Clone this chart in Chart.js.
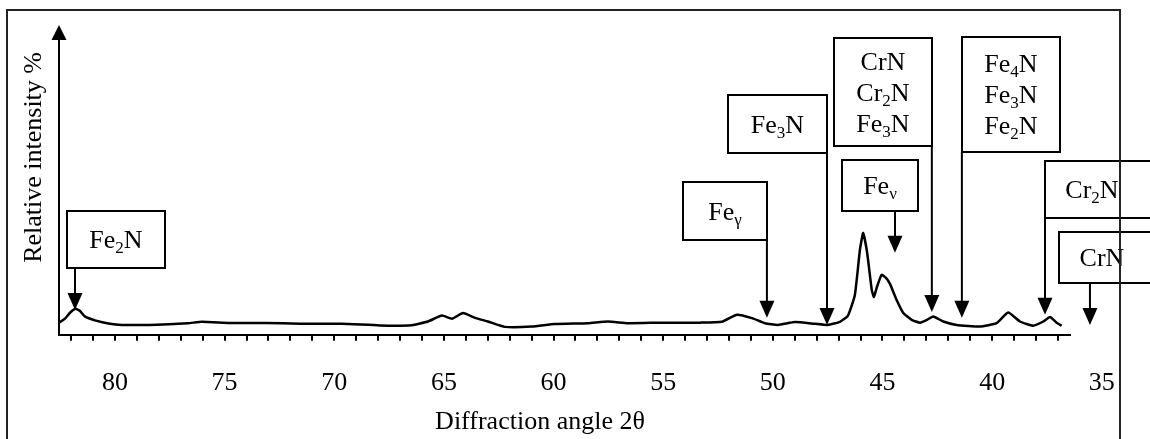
<!DOCTYPE html>
<html>
<head>
<meta charset="utf-8">
<script src="https://cdn.jsdelivr.net/npm/chart.js@4.4.1/dist/chart.umd.min.js"></script>
<style>
  html, body { margin: 0; padding: 0; background: #fff; }
</style>
</head>
<body>
<canvas id="xrd" width="1150" height="439"></canvas>
<script>
// XRD scan, diffraction angle 2θ (deg) vs relative intensity (%)
const angles = [82.55, 82.28, 82.05, 81.79, 81.60, 81.37, 80.91, 80.23, 79.68, 78.40,
  76.67, 76.03, 74.76, 73.16, 71.56, 69.65, 67.92, 66.46, 65.73, 65.09,
  64.63, 64.13, 63.58, 62.99, 62.22, 60.98, 59.94, 58.43, 57.52, 56.61,
  55.06, 53.32, 52.32, 51.64, 50.95, 50.36, 49.77, 48.99, 48.08, 47.49,
  46.94, 46.58, 46.26, 46.03, 45.88, 45.70, 45.49, 45.39, 45.25, 45.04,
  44.84, 44.66, 44.36, 44.05, 43.67, 43.29, 42.97, 42.69, 42.23, 41.62,
  40.56, 39.80, 39.27, 38.73, 38.13, 37.67, 37.36, 37.06, 36.83];
const intensity = [4.2, 5.7, 7.8, 9.2, 8.5, 6.5, 5.1, 3.9, 3.5, 3.5,
  4.1, 4.6, 4.2, 4.2, 3.9, 3.9, 3.3, 3.4, 4.7, 6.8,
  5.7, 7.7, 6.0, 4.7, 2.8, 2.9, 3.8, 4.1, 4.7, 4.1,
  4.3, 4.3, 4.6, 7.1, 5.9, 4.1, 3.5, 4.5, 3.9, 3.5,
  4.6, 6.7, 14.1, 30.0, 36.0, 29.0, 15.9, 13.4, 17.0, 21.2,
  20.1, 18.0, 12.4, 7.7, 5.3, 4.3, 5.3, 6.5, 4.7, 3.5,
  2.9, 4.1, 7.9, 4.7, 3.2, 4.7, 6.3, 4.3, 3.2];

const tickLabels = [80, 75, 70, 65, 60, 55, 50, 45, 40, 35];
const axisEnd = 37; // last minor tick under the trace

// phase labels, the angle each arrow points at and the intensity at its tip
const phaseLabels = [['Fe_2N'], ['Fe_γ'], ['Fe_3N'], ['CrN', 'Cr_2N', 'Fe_3N'],
  ['Fe_ν'], ['Fe_4N', 'Fe_3N', 'Fe_2N'], ['Cr_2N'], ['CrN']];
const phaseAngles = [81.82, 50.27, 47.53, 42.75, 44.43, 41.38, 37.59, 35.54];
const phaseTips = [8.8, 6.0, 3.5, 8.1, 29.0, 6.0, 7.1, 3.5];

// label boxes (pixels), tx = text centre when it is not the box centre
const boxes = [
  {x: 67, y: 211, w: 98, h: 57},
  {x: 683, y: 182, w: 84, h: 58},
  {x: 728, y: 95, w: 99, h: 58},
  {x: 834, y: 38, w: 98, h: 108},
  {x: 842, y: 160, w: 76, h: 51},
  {x: 962, y: 37, w: 98, h: 115},
  {x: 1045, y: 161, w: 115, h: 57, tx: 1092},
  {x: 1059, y: 232, w: 100, h: 51, tx: 1102}
];

const minorTicks = [];
for (let v = 82; v >= 35; v--) minorTicks.push(v);

const serif = '"Liberation Serif", "Times New Roman", serif';

function drawRich(ctx, str, cx, cy) {
  const parts = [];
  for (let i = 0; i < str.length; i++) {
    if (str[i] === '_') { parts.push({t: str[i + 1], sub: true}); i++; }
    else parts.push({t: str[i], sub: false});
  }
  let w = 0;
  parts.forEach(p => {
    ctx.font = (p.sub ? '17px ' : '26px ') + serif;
    p.w = ctx.measureText(p.t).width;
    w += p.w;
  });
  let x = cx - w / 2;
  const base = cy + 8.8;
  ctx.textAlign = 'left';
  ctx.textBaseline = 'alphabetic';
  parts.forEach(p => {
    ctx.font = (p.sub ? '17px ' : '26px ') + serif;
    ctx.fillText(p.t, x, p.sub ? base + 5 : base);
    x += p.w;
  });
}

const decor = {
  id: 'decor',
  afterDraw(chart) {
    const {ctx, chartArea} = chart;
    const xs = chart.scales.x, ys = chart.scales.y;
    ctx.save();
    ctx.strokeStyle = '#000';
    ctx.fillStyle = '#000';
    ctx.lineWidth = 2;

    // y axis arrow
    const ax = chartArea.left;
    ctx.beginPath();
    ctx.moveTo(ax, chartArea.top);
    ctx.lineTo(ax, 40);
    ctx.stroke();
    ctx.beginPath();
    ctx.moveTo(ax - 7.5, 40);
    ctx.lineTo(ax + 7.5, 40);
    ctx.lineTo(ax, 25);
    ctx.closePath();
    ctx.fill();

    // phase boxes and arrows
    phaseLabels.forEach((lines, i) => {
      const b = boxes[i];
      const px = xs.getPixelForValue(phaseAngles[i]);
      const tip = ys.getPixelForValue(phaseTips[i]);
      ctx.lineWidth = 2;
      ctx.beginPath();
      ctx.moveTo(px, b.y + b.h);
      ctx.lineTo(px, tip - 16);
      ctx.stroke();
      ctx.beginPath();
      ctx.moveTo(px - 7.5, tip - 17);
      ctx.lineTo(px + 7.5, tip - 17);
      ctx.lineTo(px, tip);
      ctx.closePath();
      ctx.fill();

      ctx.fillStyle = '#fff';
      ctx.fillRect(b.x, b.y, b.w, b.h);
      ctx.strokeRect(b.x, b.y, b.w, b.h);
      ctx.fillStyle = '#000';
      const cx = b.tx || (b.x + b.w / 2);
      const cy0 = b.y + b.h / 2 - (lines.length - 1) * 31 / 2;
      lines.forEach((s, k) => drawRich(ctx, s, cx, cy0 + k * 31));
    });

    // outer frame
    ctx.strokeStyle = '#222';
    ctx.lineWidth = 2;
    ctx.beginPath();
    ctx.moveTo(7, 439);
    ctx.lineTo(7, 10);
    ctx.lineTo(1120, 10);
    ctx.lineTo(1120, 439);
    ctx.stroke();
    ctx.restore();
  }
};

new Chart(document.getElementById('xrd').getContext('2d'), {
  type: 'line',
  data: {
    datasets: [{
      data: angles.map((a, i) => ({x: a, y: intensity[i]})),
      borderColor: '#000',
      borderWidth: 2.5,
      pointRadius: 0,
      tension: 0.15,
      fill: false
    }]
  },
  options: {
    responsive: false,
    animation: false,
    devicePixelRatio: 1,
    layout: {padding: {left: 10, top: 52, right: 80, bottom: 0}},
    plugins: {
      legend: {display: false},
      tooltip: {enabled: false},
      title: {
        display: true,
        position: 'bottom',
        text: 'Diffraction angle 2θ',
        color: '#000',
        font: {family: serif, size: 26, weight: 'normal'},
        padding: {top: 0, bottom: 1}
      }
    },
    scales: {
      x: {
        type: 'linear',
        reverse: true,
        min: 36.45,
        max: 82.55,
        afterBuildTicks: s => { s.ticks = minorTicks.map(v => ({value: v})); },
        afterFit: s => { s.height = 72; },
        ticks: {
          autoSkip: false,
          maxRotation: 0,
          minRotation: 0,
          padding: 27,
          color: '#000',
          font: {family: serif, size: 26},
          callback: v => tickLabels.includes(v) ? String(v) : ''
        },
        grid: {
          drawOnChartArea: false,
          drawTicks: true,
          tickLength: 6,
          lineWidth: 2,
          color: c => (c.tick && c.tick.value >= axisEnd) ? '#000' : 'rgba(0,0,0,0)'
        },
        border: {display: true, color: '#000', width: 2}
      },
      y: {
        min: 0,
        max: 100,
        afterFit: s => { s.width = 49; },
        ticks: {display: false},
        grid: {drawOnChartArea: false, drawTicks: false},
        border: {display: true, color: '#000', width: 2},
        title: {
          display: true,
          text: 'Relative intensity %',
          align: 'end',
          color: '#000',
          font: {family: serif, size: 26},
          padding: {top: 9, bottom: 0}
        }
      }
    }
  },
  plugins: [decor]
});
</script>
</body>
</html>
